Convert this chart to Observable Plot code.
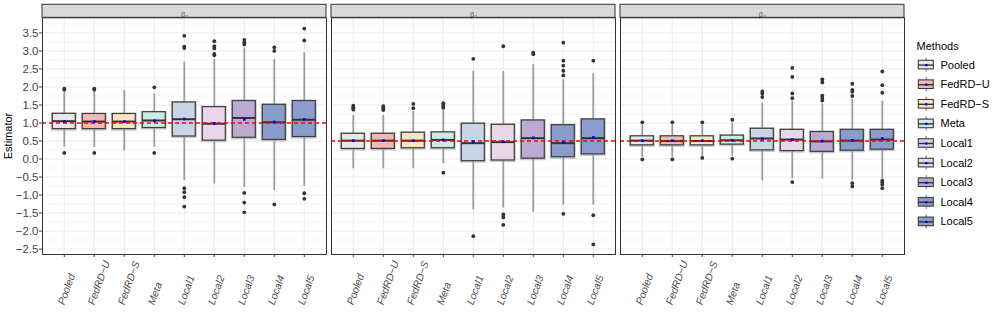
<!DOCTYPE html>
<html><head><meta charset="utf-8">
<script src="https://cdn.jsdelivr.net/npm/d3@7"></script>
<script src="https://cdn.jsdelivr.net/npm/@observablehq/plot@0.6"></script>
<style>
body{margin:0;background:#fff;font-family:"Liberation Sans",Arial,sans-serif;}
#wrap{position:relative;width:996px;height:324px;overflow:hidden;}
#wrap svg{position:absolute;top:0;}
#ytitle{position:absolute;left:8.3px;top:136px;transform:translate(-50%,-50%) rotate(-90deg);font-size:11px;color:#000;white-space:nowrap;}
#ltitle{position:absolute;left:916.5px;top:40.5px;font-size:11px;line-height:11px;color:#000;}
</style></head><body><div id="wrap"><div id="ytitle">Estimator</div><div id="ltitle">Methods</div></div>
<script>
const methods = ["Pooled","FedRD−U","FedRD−S","Meta","Local1","Local2","Local3","Local4","Local5"];
const colors  = ["#E8E8E8","#F2B9B1","#FCE5BC","#C9EBE1","#C9D4E7","#E9D7E9","#BDAAD2","#8A9CCB","#8B9DCD"];
const params  = ["β₁","β₂","β₃"];
const truth   = [1, 0.5, 0.5];
const yMajor  = [-2.5,-2,-1.5,-1,-0.5,0,0.5,1,1.5,2,2.5,3,3.5];
const yMinor  = [-2.25,-1.75,-1.25,-0.75,-0.25,0.25,0.75,1.25,1.75,2.25,2.75,3.25,3.75];

// beta 1
const b1Lo   = [0.33, 0.33, 0.22, 0.33, -0.60, -0.69, -0.78, -0.875, -0.76];
const b1Q1   = [0.83, 0.83, 0.83, 0.86, 0.625, 0.51, 0.59, 0.53, 0.61];
const b1Med  = [1.05, 1.04, 1.04, 1.07, 1.105, 0.98, 1.14, 1.02, 1.09];
const b1Q3   = [1.255, 1.25, 1.25, 1.30, 1.57, 1.44, 1.61, 1.505, 1.61];
const b1Hi   = [1.88, 1.88, 1.90, 1.81, 2.69, 2.76, 3.08, 2.76, 2.95];
const b1Mean = [1.04, 1.04, 1.04, 1.06, 1.11, 0.99, 1.10, 1.03, 1.10];
const b1Out  = [[1.93,1.95,0.17],[1.93,1.95,0.17],[],[1.99,0.17],
  [3.42,3.12,3.08,-0.81,-0.92,-1.06,-1.32],[3.27,3.13,3.07,2.92,2.88],
  [3.31,3.24,3.18,-0.94,-1.21,-1.48],[3.1,3.0,-1.26],[3.62,3.29,-0.95,-1.105]];
// beta 2
const b2Lo   = [-0.27,-0.27,-0.27,-0.13,-1.41,-1.36,-1.48,-1.28,-1.28];
const b2Q1   = [0.28,0.28,0.30,0.30,-0.06,-0.04,0.01,0.05,0.13];
const b2Med  = [0.51,0.51,0.51,0.53,0.44,0.47,0.58,0.44,0.58];
const b2Q3   = [0.70,0.70,0.73,0.74,0.98,0.95,1.07,0.94,1.10];
const b2Hi   = [1.21,1.21,1.32,1.35,2.44,2.43,2.62,2.20,2.37];
const b2Mean = [0.51,0.51,0.51,0.53,0.48,0.48,0.59,0.46,0.60];
const b2Out  = [[1.48,1.44,1.40,1.37],[1.47,1.43,1.39,1.36],[1.53,1.41],[1.55,1.50,1.45,1.42,-0.38],
  [2.78,-2.14],[3.13,-1.54,-1.62,-1.83],[2.95,2.91],[3.23,2.73,2.59,2.45,2.32,-1.52],[2.73,-1.56,-2.37]];
// beta 3
const b3Lo   = [0.05,0.05,0.05,0.08,-0.61,-0.55,-0.55,-0.60,-0.55];
const b3Q1   = [0.38,0.38,0.38,0.40,0.24,0.22,0.20,0.23,0.26];
const b3Med  = [0.51,0.50,0.50,0.52,0.57,0.54,0.49,0.51,0.54];
const b3Q3   = [0.63,0.63,0.63,0.65,0.84,0.81,0.75,0.81,0.81];
const b3Hi   = [0.95,0.95,0.95,1.0,1.55,1.60,1.53,1.65,1.60];
const b3Mean = [0.51,0.51,0.51,0.52,0.56,0.54,0.50,0.52,0.57];
const b3Out  = [[1.02,-0.01],[1.02,-0.01],[1.02,0.03],[1.09,0.01],[1.875,1.81,1.72],
  [2.53,2.28,1.82,1.69,-0.64],[2.21,2.125,1.76,1.70,1.625],[2.09,1.92,1.87,1.75,-0.67,-0.76],
  [2.43,2.05,1.84,-0.60,-0.65,-0.71,-0.81]];

const series = [
  {lo:b1Lo,q1:b1Q1,med:b1Med,q3:b1Q3,hi:b1Hi,mean:b1Mean,out:b1Out},
  {lo:b2Lo,q1:b2Q1,med:b2Med,q3:b2Q3,hi:b2Hi,mean:b2Mean,out:b2Out},
  {lo:b3Lo,q1:b3Q1,med:b3Med,q3:b3Q3,hi:b3Hi,mean:b3Mean,out:b3Out}
];
const rows = [], outs = [];
params.forEach((p, k) => {
  const s = series[k];
  methods.forEach((m, i) => {
    rows.push({param:p, method:m, lo:s.lo[i], q1:s.q1[i], med:s.med[i], q3:s.q3[i], hi:s.hi[i], mean:s.mean[i]});
    s.out[i].forEach(v => outs.push({param:p, method:m, v}));
  });
});
const truthRows = params.map((p, k) => ({param:p, y:truth[k]}));

const fmt = d3.format(".1f");
const font = "Liberation Sans, Arial, sans-serif";

const chart = Plot.plot({
  width: 996, height: 324,
  marginLeft: 41.7, marginRight: 91.3, marginTop: 17.3, marginBottom: 70,
  style: {fontFamily: font, background: "transparent", overflow: "visible"},
  fx: {domain: params, paddingInner: 0.0156, paddingOuter: 0, axis: null},
  x: {type: "band", domain: methods, paddingInner: 0.25, paddingOuter: 0.225},
  y: {domain: [-2.65, 3.92]},
  color: {domain: methods, range: colors},
  marks: [
    Plot.ruleY(yMinor, {stroke: "#EBEBEB", strokeWidth: 0.5}),
    Plot.ruleY(yMajor, {stroke: "#EBEBEB", strokeWidth: 1}),
    Plot.ruleX(methods, {x: d => d, stroke: "#EBEBEB", strokeWidth: 1}),
    Plot.ruleX(rows, {fx: "param", x: "method", y1: "lo", y2: "hi", stroke: "#9C9C9C", strokeWidth: 1.8}),
    Plot.barY(rows, {fx: "param", x: "method", y1: "q1", y2: "q3", fill: "none", stroke: "#A8A8A8", strokeWidth: 3, strokeOpacity: 0.6, dy: 0.6}),
    Plot.barY(rows, {fx: "param", x: "method", y1: "q1", y2: "q3", fill: "method", stroke: "#3C3C3C", strokeWidth: 1.2}),
    Plot.tickY(rows, {fx: "param", x: "method", y: "med", stroke: "#333", strokeWidth: 2}),
    Plot.dot(outs, {fx: "param", x: "method", y: "v", r: 1.9, fill: "#333", stroke: null}),
    Plot.ruleY(truthRows, {fx: "param", y: "y", stroke: "#FF0000", strokeWidth: 1.3, strokeDasharray: "4,3"}),
    Plot.dot(rows, {fx: "param", x: "method", y: "mean", symbol: "square", r: 1.5, fill: "#0000FF", stroke: null}),
    Plot.frame({stroke: "#333", strokeWidth: 1,
      render(index, scales, values, dims, context, next) {
        const g = next(index, scales, values, dims, context);
        const rect = g.tagName.toLowerCase() === "rect" ? g : g.querySelector("rect");
        const x = +rect.getAttribute("x"), y = +rect.getAttribute("y"), w = +rect.getAttribute("width");
        const wrap = document.createElementNS("http://www.w3.org/2000/svg", "g");
        const s = document.createElementNS("http://www.w3.org/2000/svg", "rect");
        s.setAttribute("x", x); s.setAttribute("y", y - 13); s.setAttribute("width", w); s.setAttribute("height", 13);
        s.setAttribute("fill", "#D9D9D9"); s.setAttribute("stroke", "#333"); s.setAttribute("stroke-width", 1);
        wrap.appendChild(s); wrap.appendChild(g);
        return wrap;
      }}),
    Plot.text(params, {fx: d => d, text: d => d, frameAnchor: "top", dy: -6.5, fontSize: 7.5, fill: "#555"}),
    Plot.axisY(yMajor, {tickFormat: fmt, fontSize: 11.5, tickSize: 3, tickPadding: 1, color: "#444", label: null}),
    Plot.axisX({tickSize: 3, tickFormat: () => "", color: "#444", label: null}),
    Plot.text(methods, {x: d => d, text: d => d, frameAnchor: "bottom", dy: 51, rotate: -70,
      textAnchor: "start", lineAnchor: "bottom", fontSize: 10.3, fontStyle: "italic", fill: "#4D4D4D"})
  ]
});
chart.style.left = "0px";
document.getElementById("wrap").appendChild(chart);

const legRows = methods.map((m, i) => ({method: m, c: i + 0.5}));
const legend = Plot.plot({
  width: 90, height: 324, margin: 0,
  style: {fontFamily: font, background: "transparent", overflow: "visible"},
  x: {domain: [0, 1], range: [12.3, 27.3], axis: null},
  y: {domain: [0, methods.length], range: [54.8, 231.2], axis: null},
  color: {domain: methods, range: colors},
  marks: [
    Plot.ruleX(legRows, {x: 0.5, y1: d => d.c - 0.36, y2: d => d.c + 0.36, stroke: "#9C9C9C", strokeWidth: 1.5}),
    Plot.rect(legRows, {x1: 0, x2: 1, y1: d => d.c - 0.22, y2: d => d.c + 0.22, fill: "method", stroke: "#3C3C3C", strokeWidth: 1.1}),
    Plot.ruleY(legRows, {x1: 0, x2: 1, y: "c", stroke: "#333", strokeWidth: 1.4}),
    Plot.dot(legRows, {x: 0.5, y: "c", symbol: "square", r: 1.3, fill: "#0000FF", stroke: null}),
    Plot.text(legRows, {x: 1, dx: 6.7, y: "c", text: "method", textAnchor: "start", fontSize: 11, fill: "#000"})
  ]
});
legend.style.left = "906px";
document.getElementById("wrap").appendChild(legend);
</script></body></html>
